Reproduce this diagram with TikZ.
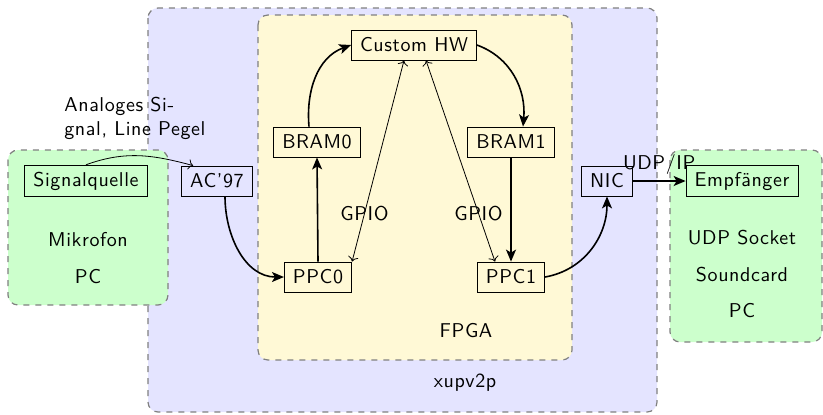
\documentclass[tikz,border=0pt]{standalone}
\usepackage{fontspec}
\setsansfont{lmsans10-regular}[Extension=.otf, LetterSpace=3]
\usetikzlibrary{arrows.meta}
\definecolor{boardfill}{RGB}{228,228,255}
\definecolor{fpgafill}{RGB}{255,249,214}
\definecolor{pcfill}{RGB}{204,255,204}
\tikzset{
  area/.style={draw=gray, dashed, rounded corners=5pt, line width=0.6pt},
  unit/.style={draw, rectangle, inner xsep=4.3pt, inner ysep=3.3pt, minimum height=15pt},
  flow/.style={thick, -{Stealth[length=6pt,width=5pt,inset=1.5pt]}},
  link/.style={thin, ->},
  gpio/.style={thin, <->},
}
\begin{document}
\begin{tikzpicture}[x=0.5pt, y=-0.5pt, font=\sffamily]
\useasboundingbox (0,0) rectangle (823,414);

% containers
\draw[area, fill=boardfill] (148,8) rectangle (657,412);
\draw[area, fill=fpgafill] (258,15) rectangle (572,360);
\draw[area, fill=pcfill] (8,150) rectangle (168,305);
\draw[area, fill=pcfill] (670,150) rectangle (822,342);

% container captions
\node (board) at (465,383) {xupv2p};
\node (fpga) at (466,331) {FPGA};
\node (mic) at (88,240) {Mikrofon};
\node (pcl) at (88,277) {PC};
\node (sock) at (742,238) {UDP Socket};
\node (snd) at (742,275) {Soundcard};
\node (pcr) at (742,311) {PC};

% units
\node[unit] (sig) at (86,181) {Signalquelle};
\node[unit] (ac) at (217,181) {AC'97};
\node[unit] (hw) at (414,45) {Custom HW};
\node[unit] (bram0) at (317,142) {BRAM0};
\node[unit] (bram1) at (511,142) {BRAM1};
\node[unit] (ppc0) at (318,277) {PPC0};
\node[unit] (ppc1) at (511,277) {PPC1};
\node[unit] (nic) at (607,181) {NIC};
\node[unit] (emp) at (742,181) {Empfänger};

\node[anchor=north west, align=left, inner sep=0pt] (analog) at (64,97)
  {Analoges Si-\\gnal, Line Pegel};

% connections
\draw[link] (sig.north) to[out=20, in=165] ([xshift=6]ac.north west);
\draw[flow] ([xshift=4]ac.south) to[out=-90, in=180] (ppc0.west);
\draw[flow] (ppc0.north) -- (bram0.south);
\draw[flow] ([xshift=-4]bram0.north) to[out=95, in=200] (hw.west);
\draw[flow] (hw.east) to[out=-20, in=85] ([xshift=6]bram1.north);
\draw[flow] (bram1.south) -- (ppc1.north);
\draw[flow] (ppc1.east) to[out=10, in=-90] (nic.south);
\draw[flow] (nic.east) -- node[above=3pt, inner sep=0pt] (udp) {UDP/IP} (emp.west);

\draw[gpio] ([xshift=-5]hw.south) -- node[pos=0.76] (g0) {GPIO} (ppc0.north east);
\draw[gpio] ([xshift=6]hw.south) -- node[pos=0.76] (g1) {GPIO} ([xshift=-8]ppc1.north);
\end{tikzpicture}
\end{document}
